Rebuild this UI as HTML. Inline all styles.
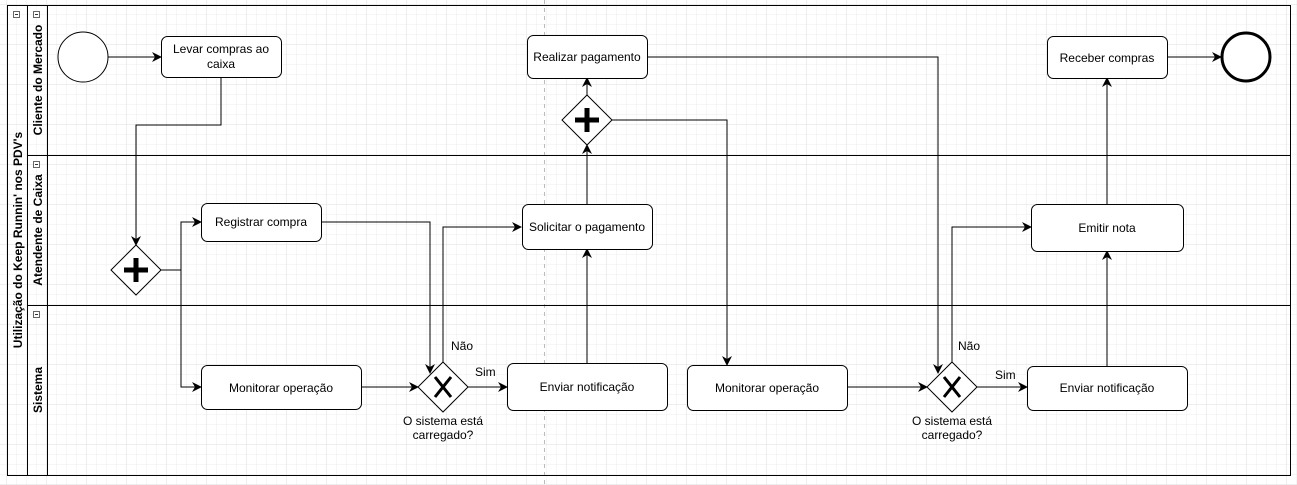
<!DOCTYPE html>
<html><head><meta charset="utf-8"><style>
html,body{margin:0;padding:0;background:#fff}
svg{display:block}
text{font-family:"Liberation Sans",Arial,sans-serif;font-size:12px;fill:#000}
</style></head><body>
<svg width="1297" height="485" viewBox="0 0 1297 485" xmlns="http://www.w3.org/2000/svg">
<defs>
<pattern id="g" width="10" height="10" patternUnits="userSpaceOnUse"><path d="M10 0V10H0" fill="none" stroke="#ececec" stroke-width="1"/></pattern>
<pattern id="G" width="40" height="40" patternUnits="userSpaceOnUse" x="7" y="5"><rect width="40" height="40" fill="url(#g)"/><path d="M40 0V40H0" fill="none" stroke="#dedede" stroke-width="1"/></pattern>
<marker id="a" viewBox="0 0 10 10" refX="9" refY="5" markerWidth="10" markerHeight="10" markerUnits="userSpaceOnUse" orient="auto"><path d="M0 0L10 5L0 10L3 5Z" fill="#000"/></marker>
</defs>
<rect width="1297" height="485" fill="url(#G)"/>
<line x1="544.5" y1="0" x2="544.5" y2="485" stroke="#bbb" stroke-dasharray="4 4"/>
<!-- pool -->
<rect x="7.5" y="5.5" width="1283" height="470" fill="none" stroke="#000"/>
<line x1="27.5" y1="5" x2="27.5" y2="475" stroke="#000"/>
<line x1="47.5" y1="5" x2="47.5" y2="475" stroke="#000"/>
<line x1="27" y1="155.5" x2="1290" y2="155.5" stroke="#000"/>
<line x1="27" y1="305.5" x2="1290" y2="305.5" stroke="#000"/>
<g fill="#fff" stroke="#666" stroke-width="1">
<rect x="13.5" y="11.5" width="6" height="6"/><rect x="33.5" y="11.5" width="6" height="6"/><rect x="33.5" y="161.5" width="6" height="6"/><rect x="33.5" y="311.5" width="6" height="6"/></g>
<g stroke="#333"><line x1="15" y1="14.5" x2="18" y2="14.5"/><line x1="35" y1="14.5" x2="38" y2="14.5"/><line x1="35" y1="164.5" x2="38" y2="164.5"/><line x1="35" y1="314.5" x2="38" y2="314.5"/></g>
<g font-weight="bold" text-anchor="middle">
<text transform="translate(22,240) rotate(-90)" style="font-weight:bold">Utilização do Keep Runnin' nos PDV's</text>
<text transform="translate(42,80) rotate(-90)" style="font-weight:bold">Cliente do Mercado</text>
<text transform="translate(42,230) rotate(-90)" style="font-weight:bold">Atendente de Caixa</text>
<text transform="translate(42,390) rotate(-90)" style="font-weight:bold">Sistema</text>
</g>
<!-- edges -->
<g fill="none" stroke="#000" stroke-width="1" marker-end="url(#a)">
<path d="M108 57H161"/>
<path d="M221 78V125H136V245"/>
<path d="M161 270H181V222H201"/>
<path d="M181 270V387H201"/>
<path d="M361 387H418"/>
<path d="M321 222H430V373"/>
<path d="M443 362V227H521"/>
<path d="M468 387H507"/>
<path d="M587 363V249"/>
<path d="M587 204V145"/>
<path d="M587 95V78"/>
<path d="M612 120H727V365"/>
<path d="M647 57H938V373"/>
<path d="M847 387H927"/>
<path d="M952 362V227H1031"/>
<path d="M977 387H1027"/>
<path d="M1107 366V251"/>
<path d="M1107 204V78"/>
<path d="M1167 57H1221"/>
</g>
<!-- events -->
<circle cx="83" cy="57" r="25" fill="#fff" stroke="#000"/>
<circle cx="1246" cy="57" r="24" fill="#fff" stroke="#000" stroke-width="3"/>
<!-- tasks -->
<g fill="#fff" stroke="#000">
<rect x="161.5" y="36.5" width="120" height="41" rx="6"/>
<rect x="201.5" y="203.5" width="120" height="38" rx="6"/>
<rect x="201.5" y="365.5" width="160" height="44" rx="6"/>
<rect x="507.5" y="363.5" width="160" height="47" rx="6"/>
<rect x="522.5" y="204.5" width="130" height="45" rx="6"/>
<rect x="527.5" y="35.5" width="120" height="43" rx="6"/>
<rect x="687.5" y="365.5" width="160" height="45" rx="6"/>
<rect x="1031.5" y="204.5" width="152" height="47" rx="6"/>
<rect x="1027.5" y="366.5" width="160" height="44" rx="6"/>
<rect x="1047.5" y="36.5" width="120" height="42" rx="6"/>
</g>
<g text-anchor="middle">
<text x="221" y="53">Levar compras ao</text><text x="221" y="68">caixa</text>
<text x="261" y="226">Registrar compra</text>
<text x="281" y="392">Monitorar operação</text>
<text x="587" y="391">Enviar notificação</text>
<text x="587" y="231">Solicitar o pagamento</text>
<text x="587" y="61">Realizar pagamento</text>
<text x="767" y="392">Monitorar operação</text>
<text x="1107" y="232">Emitir nota</text>
<text x="1107" y="392">Enviar notificação</text>
<text x="1107" y="62">Receber compras</text>
<text x="443" y="425">O sistema está</text><text x="443" y="439">carregado?</text>
<text x="952" y="425">O sistema está</text><text x="952" y="439">carregado?</text>
</g>
<text x="451" y="350">Não</text><text x="475" y="376">Sim</text>
<text x="958" y="350">Não</text><text x="995" y="379">Sim</text>
<!-- gateways -->
<g fill="#fff" stroke="#000">
<path d="M136 245L161 270L136 295L111 270Z"/>
<path d="M587 95L612 120L587 145L562 120Z"/>
<path d="M443 362L468 387L443 412L418 387Z"/>
<path d="M952 362L977 387L952 412L927 387Z"/>
</g>
<g stroke="#000" stroke-width="5">
<path d="M124 270H148M136 258V282"/>
<path d="M575 120H599M587 108V132"/>
</g>
<g stroke="#000" stroke-width="3">
<path d="M435 377L451 397M451 377L435 397"/>
<path d="M944 377L960 397M960 377L944 397"/>
</g>
</svg>
</body></html>
